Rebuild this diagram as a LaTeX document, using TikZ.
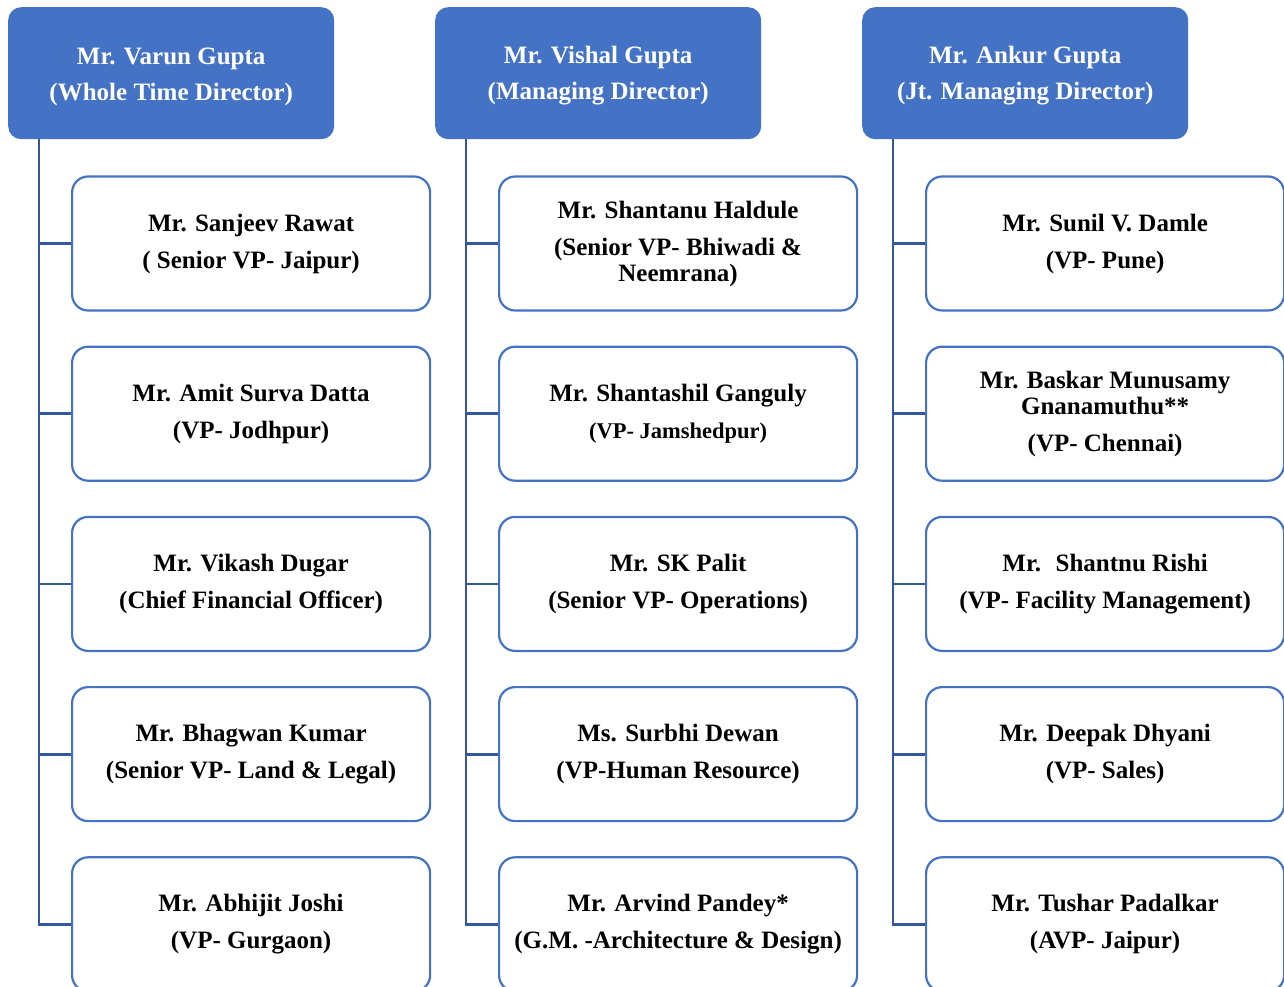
\documentclass[tikz,border=0pt]{standalone}
\usepackage{fontspec}
\setmainfont{Liberation Serif}
\usetikzlibrary{positioning}

\definecolor{headblue}{RGB}{68,114,196}
\definecolor{lineblue}{RGB}{52,88,160}

\begin{document}
\begin{tikzpicture}[x=1pt, y=1pt,
    head/.style={rectangle, rounded corners=13pt, fill=headblue, text=white, minimum width=326pt, minimum height=132pt, anchor=north west, align=center, font=\bfseries\fontsize{25}{26}\selectfont},
    member/.style={rectangle, rounded corners=16pt, draw=headblue, line width=2.2pt, fill=white, minimum width=358pt, minimum height=134pt, align=center, font=\bfseries\fontsize{25}{26}\selectfont},
    conn/.style={draw=lineblue, line width=2.8pt}]
    \path [use as bounding box, clip] (0,0) rectangle (1284,-987);

    \node [head] (varun) at (8,-7) {\rule{0pt}{23pt}Mr. Varun Gupta\\[10pt](Whole Time Director)};
    \node [head] (vishal) at (435,-7) {\rule{0pt}{23pt}Mr. Vishal Gupta\\[10pt](Managing Director)};
    \node [head] (ankur) at (862,-7) {\rule{0pt}{23pt}Mr. Ankur Gupta\\[10pt](Jt. Managing Director)};

    \node [member, below right=36pt and 63pt of varun.south west] (sanjeev) {Mr. Sanjeev Rawat\\[11pt]( Senior VP- Jaipur)};
    \node [member, below=34pt of sanjeev] (amit) {Mr. Amit Surva Datta\\[11pt](VP- Jodhpur)};
    \node [member, below=34pt of amit] (vikash) {Mr. Vikash Dugar\\[11pt](Chief Financial Officer)};
    \node [member, below=34pt of vikash] (bhagwan) {Mr. Bhagwan Kumar\\[11pt](Senior VP- Land \& Legal)};
    \node [member, below=34pt of bhagwan] (abhijit) {Mr. Abhijit Joshi\\[11pt](VP- Gurgaon)};

    \node [member, below right=36pt and 63pt of vishal.south west] (shantanu) {Mr. Shantanu Haldule\\[11pt](Senior VP- Bhiwadi \&\\Neemrana)};
    \node [member, below=34pt of shantanu] (shantashil) {Mr. Shantashil Ganguly\\[11pt]{\fontsize{22.5}{26}\selectfont(VP- Jamshedpur)}};
    \node [member, below=34pt of shantashil] (palit) {Mr. SK Palit\\[11pt](Senior VP- Operations)};
    \node [member, below=34pt of palit] (surbhi) {Ms. Surbhi Dewan\\[11pt](VP-Human Resource)};
    \node [member, below=34pt of surbhi] (arvind) {Mr. Arvind Pandey*\\[11pt](G.M. -Architecture \& Design)};

    \node [member, below right=36pt and 63pt of ankur.south west] (sunil) {Mr. Sunil V. Damle\\[11pt](VP- Pune)};
    \node [member, below=34pt of sunil] (baskar) {Mr. Baskar Munusamy\\Gnanamuthu**\\[11pt](VP- Chennai)};
    \node [member, below=34pt of baskar] (rishi) {Mr.~ Shantnu Rishi\\[11pt](VP- Facility Management)};
    \node [member, below=34pt of rishi] (deepak) {Mr. Deepak Dhyani\\[11pt](VP- Sales)};
    \node [member, below=34pt of deepak] (tushar) {Mr. Tushar Padalkar\\[11pt](AVP- Jaipur)};

    \coordinate (varunline) at ([xshift=31pt]varun.south west);
    \coordinate (vishalline) at ([xshift=31pt]vishal.south west);
    \coordinate (ankurline) at ([xshift=31pt]ankur.south west);

    \draw [conn] (varunline) |- (abhijit.west);
    \draw [conn] (varunline |- sanjeev.west) -- (sanjeev.west);
    \draw [conn] (varunline |- amit.west) -- (amit.west);
    \draw [conn] (varunline |- vikash.west) -- (vikash.west);
    \draw [conn] (varunline |- bhagwan.west) -- (bhagwan.west);

    \draw [conn] (vishalline) |- (arvind.west);
    \draw [conn] (vishalline |- shantanu.west) -- (shantanu.west);
    \draw [conn] (vishalline |- shantashil.west) -- (shantashil.west);
    \draw [conn] (vishalline |- palit.west) -- (palit.west);
    \draw [conn] (vishalline |- surbhi.west) -- (surbhi.west);

    \draw [conn] (ankurline) |- (tushar.west);
    \draw [conn] (ankurline |- sunil.west) -- (sunil.west);
    \draw [conn] (ankurline |- baskar.west) -- (baskar.west);
    \draw [conn] (ankurline |- rishi.west) -- (rishi.west);
    \draw [conn] (ankurline |- deepak.west) -- (deepak.west);
\end{tikzpicture}
\end{document}
